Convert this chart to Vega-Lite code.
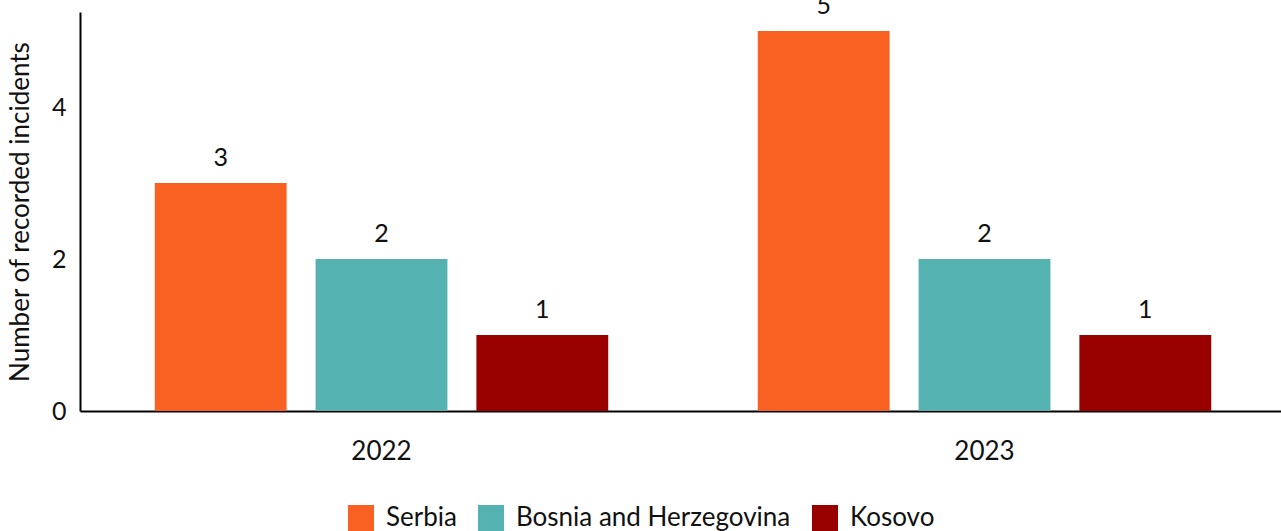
{
  "$schema": "https://vega.github.io/schema/vega-lite/v6.json",
  "width": 1206,
  "height": 399,
  "autosize": "none",
  "padding": {"left": 80, "top": 12, "right": 0, "bottom": 120},
  "background": "white",
  "config": {
    "font": "Lato",
    "view": {"stroke": null},
    "axis": {"labelFont": "Lato", "titleFont": "Lato", "labelColor": "#111", "titleColor": "#111", "grid": false, "ticks": false, "domainColor": "#000", "domainWidth": 2}
  },
  "data": {
    "values": [
      {"year": "2022", "country": "Serbia", "incidents": 3},
      {"year": "2022", "country": "Bosnia and Herzegovina", "incidents": 2},
      {"year": "2022", "country": "Kosovo", "incidents": 1},
      {"year": "2023", "country": "Serbia", "incidents": 5},
      {"year": "2023", "country": "Bosnia and Herzegovina", "incidents": 2},
      {"year": "2023", "country": "Kosovo", "incidents": 1}
    ]
  },
  "encoding": {
    "x": {"field": "year", "type": "nominal", "title": null,
      "scale": {"paddingInner": 0, "paddingOuter": 0},
      "axis": {"labelAngle": 0, "labelFontSize": 26, "labelPadding": 27}},
    "xOffset": {"field": "country", "type": "nominal",
      "sort": ["Serbia", "Bosnia and Herzegovina", "Kosovo"],
      "scale": {"paddingInner": 0.18, "paddingOuter": 0.465}},
    "y": {"field": "incidents", "type": "quantitative",
      "title": "Number of recorded incidents",
      "scale": {"domain": [0, 5.25], "nice": false},
      "axis": {"values": [0, 2, 4], "labelFontSize": 25, "titleFontSize": 26, "titleFontWeight": "normal", "labelPadding": 14, "titlePadding": 18}}
  },
  "layer": [
    {
      "mark": {"type": "bar"},
      "encoding": {
        "color": {"field": "country", "type": "nominal",
          "sort": ["Serbia", "Bosnia and Herzegovina", "Kosovo"],
          "scale": {"domain": ["Serbia", "Bosnia and Herzegovina", "Kosovo"], "range": ["#F96123", "#54B2B1", "#990000"]},
          "legend": {"title": null, "orient": "none", "legendX": 268, "legendY": 493, "direction": "horizontal",
            "symbolType": "square", "symbolSize": 676, "symbolStrokeWidth": 0, "labelFontSize": 26, "labelLimit": 500, "labelColor": "#111", "labelOffset": 12, "columnPadding": 21}}
      }
    },
    {
      "mark": {"type": "text", "baseline": "bottom", "dy": -12, "fontSize": 25, "color": "#111"},
      "encoding": {"text": {"field": "incidents", "type": "quantitative"}}
    }
  ]
}
